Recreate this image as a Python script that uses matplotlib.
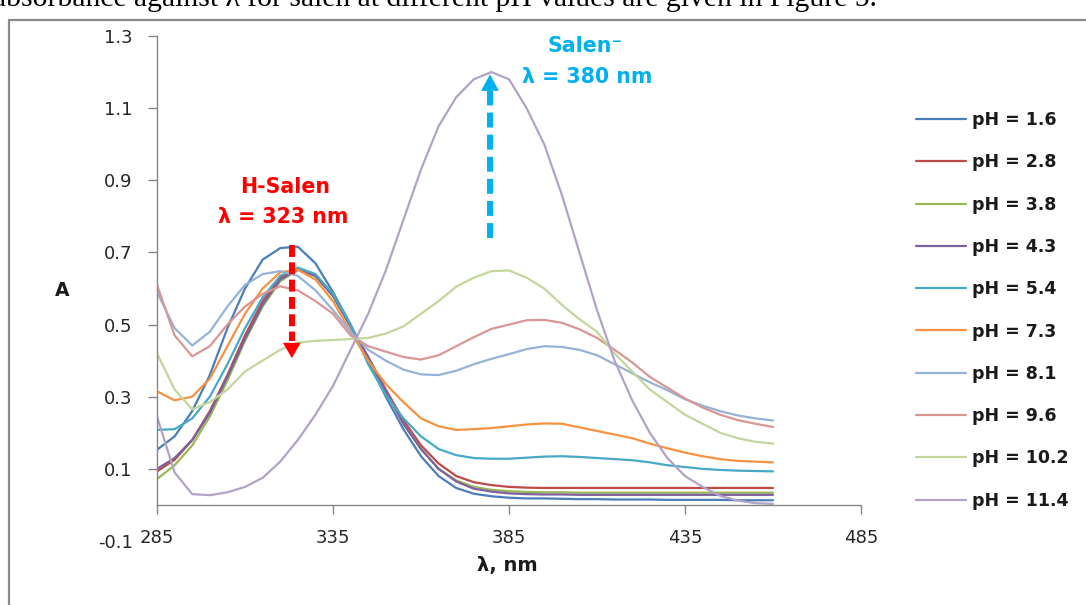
import matplotlib
matplotlib.use("Agg")
import matplotlib.pyplot as plt
from matplotlib.patches import Rectangle

W, H = 1086, 605

wavelength = [285, 290, 295, 300, 305, 310, 315, 320, 325, 330, 335, 340, 345, 350,
              355, 360, 365, 370, 375, 380, 385, 390, 395, 400, 405, 410, 415, 420,
              425, 430, 435, 440, 445, 450, 455, 460]

ph_labels = ["pH = 1.6", "pH = 2.8", "pH = 3.8", "pH = 4.3", "pH = 5.4",
             "pH = 7.3", "pH = 8.1", "pH = 9.6", "pH = 10.2", "pH = 11.4"]

a_ph16 = [0.153, 0.19, 0.26, 0.36, 0.49, 0.60, 0.68, 0.712, 0.716, 0.67, 0.59, 0.50, 0.40, 0.30,
          0.21, 0.135, 0.08, 0.047, 0.031, 0.024, 0.02, 0.018, 0.018, 0.017, 0.016, 0.016, 0.015, 0.015,
          0.015, 0.014, 0.014, 0.014, 0.014, 0.013, 0.013, 0.013]
a_ph28 = [0.093, 0.125, 0.18, 0.26, 0.36, 0.47, 0.565, 0.63, 0.655, 0.635, 0.58, 0.495, 0.41, 0.32,
          0.235, 0.165, 0.115, 0.08, 0.063, 0.055, 0.05, 0.048, 0.047, 0.047, 0.047, 0.047, 0.047, 0.047,
          0.047, 0.047, 0.047, 0.047, 0.047, 0.047, 0.047, 0.047]
a_ph38 = [0.072, 0.11, 0.165, 0.245, 0.345, 0.455, 0.55, 0.62, 0.652, 0.635, 0.58, 0.495, 0.405, 0.315,
          0.225, 0.155, 0.10, 0.068, 0.05, 0.042, 0.038, 0.036, 0.035, 0.035, 0.034, 0.034, 0.034, 0.034,
          0.034, 0.034, 0.034, 0.034, 0.034, 0.034, 0.034, 0.034]
a_ph43 = [0.10, 0.13, 0.18, 0.255, 0.355, 0.46, 0.555, 0.625, 0.652, 0.635, 0.58, 0.495, 0.41, 0.315,
          0.225, 0.155, 0.10, 0.065, 0.045, 0.037, 0.032, 0.03, 0.029, 0.029, 0.028, 0.028, 0.028, 0.028,
          0.028, 0.028, 0.028, 0.028, 0.028, 0.028, 0.028, 0.028]
a_ph54 = [0.208, 0.21, 0.24, 0.30, 0.39, 0.49, 0.575, 0.635, 0.658, 0.64, 0.585, 0.50, 0.39, 0.305,
          0.24, 0.19, 0.155, 0.138, 0.13, 0.128, 0.128, 0.131, 0.134, 0.135, 0.133, 0.13, 0.127, 0.124,
          0.118, 0.11, 0.105, 0.10, 0.097, 0.095, 0.094, 0.093]
a_ph73 = [0.315, 0.29, 0.30, 0.35, 0.44, 0.53, 0.60, 0.645, 0.652, 0.625, 0.565, 0.48, 0.40, 0.335,
          0.285, 0.24, 0.218, 0.208, 0.21, 0.213, 0.218, 0.223, 0.226, 0.225, 0.215, 0.205, 0.195, 0.185,
          0.17, 0.157, 0.145, 0.135, 0.127, 0.122, 0.12, 0.118]
a_ph81 = [0.59, 0.49, 0.442, 0.48, 0.55, 0.61, 0.64, 0.648, 0.635, 0.595, 0.54, 0.48, 0.43, 0.40,
          0.375, 0.362, 0.36, 0.372, 0.39, 0.405, 0.418, 0.432, 0.44, 0.438, 0.43, 0.415, 0.39, 0.365,
          0.34, 0.318, 0.293, 0.275, 0.26, 0.248, 0.24, 0.234]
a_ph96 = [0.61, 0.47, 0.412, 0.44, 0.50, 0.55, 0.585, 0.606, 0.595, 0.565, 0.53, 0.47, 0.44, 0.425,
          0.41, 0.403, 0.415, 0.44, 0.465, 0.488, 0.50, 0.512, 0.513, 0.505, 0.487, 0.463, 0.43, 0.395,
          0.355, 0.325, 0.295, 0.27, 0.25, 0.235, 0.225, 0.216]
a_ph102 = [0.42, 0.32, 0.265, 0.285, 0.32, 0.37, 0.40, 0.43, 0.45, 0.455, 0.457, 0.46, 0.463, 0.475,
           0.495, 0.53, 0.565, 0.605, 0.63, 0.648, 0.65, 0.63, 0.60, 0.555, 0.515, 0.48, 0.42, 0.37,
           0.32, 0.285, 0.25, 0.225, 0.20, 0.185, 0.175, 0.17]
a_ph114 = [0.245, 0.09, 0.03, 0.027, 0.035, 0.05, 0.075, 0.12, 0.18, 0.25, 0.33, 0.43, 0.53, 0.65,
           0.79, 0.93, 1.05, 1.13, 1.18, 1.20, 1.18, 1.10, 1.00, 0.86, 0.70, 0.54, 0.40, 0.29,
           0.20, 0.13, 0.08, 0.05, 0.025, 0.012, 0.005, 0.003]

series = [a_ph16, a_ph28, a_ph38, a_ph43, a_ph54, a_ph73, a_ph81, a_ph96, a_ph102, a_ph114]
colors = ["#4A7EBB", "#BE4B48", "#98B954", "#7D60A0", "#46AAC5",
          "#F69240", "#95B3D7", "#D99694", "#C3D69B", "#B3A2C7"]

x_ticks = [285, 335, 385, 435, 485]
y_ticks = [-0.1, 0.1, 0.3, 0.5, 0.7, 0.9, 1.1, 1.3]

FONT = ["DejaVu Sans"]
plt.rcParams["font.family"] = FONT

fig = plt.figure(figsize=(W / 100, H / 100), dpi=100)

def fx(px):
    return px / W

def fy(py):
    return 1 - py / H

# outer frame of the figure
fig.add_artist(Rectangle((fx(9), fy(620)), fx(1100) - fx(9), fy(20) - fy(620),
                         transform=fig.transFigure, fill=False, edgecolor="#8A8A8A", lw=1.6))
# sentence of the page above the figure (cut by the crop, as in the reference)
fig.text(fx(877), fy(6), "absorbance against λ for salen at different pH values are given in Figure 5.",
         ha="right", va="baseline", fontsize=21.3, family=["Liberation Serif", "DejaVu Serif"], color="black")

ax = fig.add_axes([fx(157), fy(541), fx(861) - fx(157), fy(36) - fy(541)])
ax.set_xlim(285, 485)
ax.set_ylim(-0.1, 1.3)

for vals, col, lab in zip(series, colors, ph_labels):
    ax.plot(wavelength, vals, color=col, lw=1.6, label=lab, solid_capstyle="round")

for s in ["top", "right"]:
    ax.spines[s].set_visible(False)
ax.spines["bottom"].set_position(("data", 0))
ax.spines["left"].set_bounds(0, 1.3)
for s in ["left", "bottom"]:
    ax.spines[s].set_color("#868686")
    ax.spines[s].set_linewidth(1.0)

ax.set_xticks(x_ticks)
ax.set_xticklabels([str(v) for v in x_ticks])
ax.set_yticks(y_ticks)
ax.set_yticklabels(["%.1f" % v for v in y_ticks])
ax.tick_params(axis="both", direction="out", length=6.5, width=1.0, color="#868686",
               labelsize=13, labelcolor="#262626")
ax.tick_params(axis="y", pad=11)
ax.tick_params(axis="x", pad=11)
ax.yaxis.get_major_ticks()[0].tick1line.set_visible(False)

# axis titles
fig.text(fx(62), fy(291), "A", ha="center", va="center", fontsize=13.5, fontweight="bold", color="#1a1a1a")
fig.text(fx(507), fy(566), "λ, nm", ha="center", va="center", fontsize=14, fontweight="bold", color="#1a1a1a")

# annotations
red = "#FF0000"
blue = "#00B0F0"
fig.text(fx(285), fy(187), "H-Salen", ha="center", va="center", fontsize=14.8, fontweight="bold", color=red)
fig.text(fx(283), fy(217), "λ = 323 nm", ha="center", va="center", fontsize=14.8, fontweight="bold", color=red)
fig.text(fx(585), fy(46), "Salen⁻", ha="center", va="center", fontsize=14.8, fontweight="bold", color=blue)
fig.text(fx(587), fy(77), "λ = 380 nm", ha="center", va="center", fontsize=14.8, fontweight="bold", color=blue)

# red dashed arrow (down)
ax.plot([323.3, 323.3], [0.72, 0.455], color=red, lw=4.3, ls=(0, (2.0, 0.9)),
        dash_capstyle="butt", zorder=5)
ax.annotate("", xy=(323.3, 0.407), xytext=(323.3, 0.46),
            arrowprops=dict(arrowstyle="-|>,head_width=0.32,head_length=0.55", color=red, lw=0,
                            shrinkA=0, shrinkB=0, mutation_scale=20), zorder=5)
# blue dashed arrow (up)
ax.plot([379.6, 379.6], [0.74, 1.15], color=blue, lw=4.3, ls=(0, (2.5, 1.2)),
        dash_capstyle="butt", zorder=5)
ax.annotate("", xy=(379.6, 1.194), xytext=(379.6, 1.14),
            arrowprops=dict(arrowstyle="-|>,head_width=0.32,head_length=0.6", color=blue, lw=0,
                            shrinkA=0, shrinkB=0, mutation_scale=20), zorder=5)

leg = ax.legend(loc="upper left", bbox_to_anchor=(fx(916), fy(111)), bbox_transform=fig.transFigure,
                frameon=False, fontsize=12.5, handlelength=2.9, handletextpad=0.35,
                labelspacing=1.4, borderpad=0, borderaxespad=0)
for t in leg.get_texts():
    t.set_fontweight("bold")
    t.set_color("#1a1a1a")

fig.savefig("out.png", dpi=100)
